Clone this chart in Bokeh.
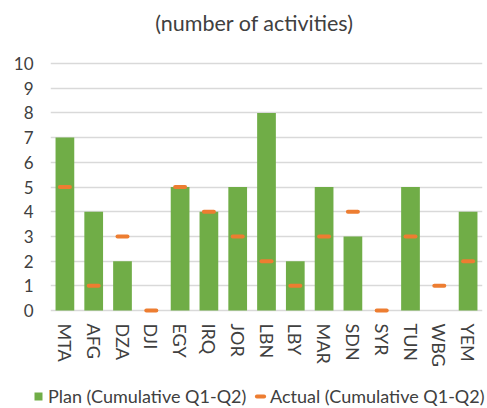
from bokeh.plotting import figure
from bokeh.layouts import column, row
from bokeh.models import Range1d, Label, Legend, LegendItem, FactorRange
from bokeh.embed import file_html
from bokeh.resources import INLINE

categories = ["MTA", "AFG", "DZA", "DJI", "EGY", "IRQ", "JOR", "LBN", "LBY", "MAR", "SDN", "SYR", "TUN", "WBG", "YEM"]
plan = [7, 4, 2, 0, 5, 4, 5, 8, 2, 5, 3, 0, 5, 0, 4]
actual = [5, 1, 3, 0, 5, 4, 3, 2, 1, 3, 4, 0, 3, 1, 2]
y_ticks = list(range(0, 11))
title_text = "(number of activities)"
plan_label = "Plan (Cumulative Q1-Q2)"
actual_label = "Actual (Cumulative Q1-Q2)"

GREEN = "#70AD47"
ORANGE = "#ED7D31"
TEXT = "#404040"
FONT = "Lato"

p = figure(width=487, height=375, x_range=FactorRange(*categories),
           y_range=Range1d(-0.2, 12.55), output_backend="svg", toolbar_location=None,
           min_border_left=50, min_border_right=5, min_border_top=0, min_border_bottom=60)
p.outline_line_color = None
p.background_fill_color = "white"
p.border_fill_color = "white"

bars = p.vbar(x=categories, top=plan, width=0.65, fill_color=GREEN, line_color=None)
acts = p.scatter(x=categories, y=actual, marker="dash", size=10, line_color=ORANGE,
                 line_width=4, line_cap="round")

p.xgrid.grid_line_color = None
p.ygrid.grid_line_color = "#d9d9d9"
p.ygrid.grid_line_width = 1.5
p.ygrid.ticker = y_ticks
p.yaxis.ticker = y_ticks

for ax in (p.xaxis, p.yaxis):
    ax.axis_line_color = None
    ax.major_tick_line_color = None
    ax.minor_tick_line_color = None
    ax.major_tick_out = 0
    ax.major_tick_in = 0
    ax.minor_tick_out = 0
    ax.major_label_text_font = FONT
    ax.major_label_text_color = TEXT
    ax.major_label_text_font_size = "17px"

p.yaxis.major_label_standoff = 17
p.xaxis.major_label_standoff = 8
p.xaxis.major_label_orientation = "vertical"
p.xaxis.major_label_text_font_size = "18px"
p.x_range.range_padding = 0
p.x_range.factor_padding = 0

p.add_layout(Label(x=204, y=293, x_units="screen", y_units="screen", text=title_text,
                   text_align="center", text_baseline="middle", text_font=FONT,
                   text_font_size="21.5px", text_color=TEXT))

# legend strip below the chart (legend swatches are drawn outside its visible range)
lg = figure(width=487, height=33, x_range=Range1d(0, 1), y_range=Range1d(0, 1),
            output_backend="svg", toolbar_location=None,
            min_border_left=0, min_border_right=0, min_border_top=0, min_border_bottom=0)
lg.axis.visible = False
lg.grid.visible = False
lg.outline_line_color = None
lg_bar = lg.vbar(x=[5], top=[1], width=0.65, fill_color=GREEN, line_color=None)
lg_act = lg.scatter(x=[5], y=[0.5], marker="dash", size=10, line_color=ORANGE,
                    line_width=4, line_cap="round")

common = dict(orientation="horizontal", label_text_font=FONT, label_text_font_size="18px",
              label_text_color=TEXT, padding=0, margin=0,
              border_line_color=None, background_fill_alpha=0)
leg1 = Legend(items=[LegendItem(label=plan_label, renderers=[lg_bar])],
              location=(33, 1), glyph_width=10, glyph_height=10, label_standoff=5, **common)
leg2 = Legend(items=[LegendItem(label=actual_label, renderers=[lg_act])],
              location=(251, 1), glyph_width=18, glyph_height=18, label_standoff=1, **common)
lg.add_layout(leg1, "center")
lg.add_layout(leg2, "center")

open("out.html", "w").write(file_html(column(p, row(lg), spacing=0), INLINE))
